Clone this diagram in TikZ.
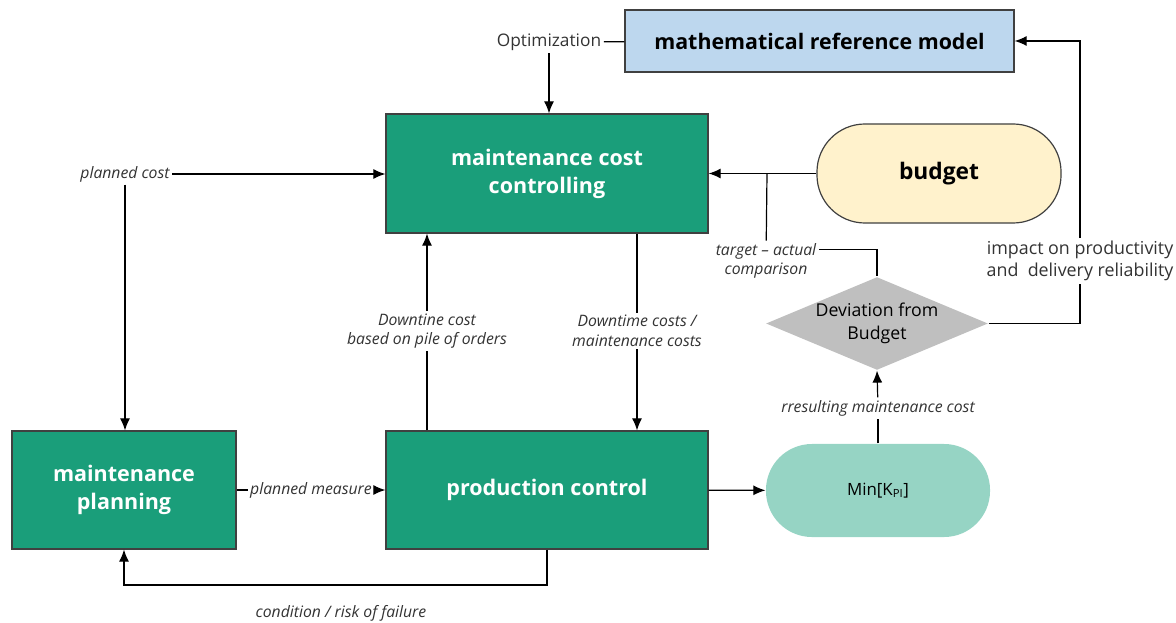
\documentclass[tikz,border=0pt]{standalone}
\usepackage{fontspec}
\setmainfont{Open Sans}
\usetikzlibrary{arrows.meta,shapes.geometric}
\definecolor{boxgreen}{RGB}{26,158,122}
\definecolor{modelblue}{RGB}{189,215,238}
\definecolor{budgetyellow}{RGB}{255,242,204}
\definecolor{devgray}{RGB}{191,191,191}
\definecolor{kpimint}{RGB}{150,212,196}
\begin{document}
\begin{tikzpicture}[x=0.025cm,y=-0.025cm,>={Latex[length=3mm,width=2.5mm]},line width=0.85pt,
    box/.style={draw=black!75,fill=boxgreen,text=white,align=center,inner sep=0pt,
      font=\bfseries\fontsize{15.3}{20}\selectfont},
    lbl/.style={fill=white,text=black!80,align=center,inner sep=1.5pt,
      font=\itshape\fontsize{11.2}{14}\selectfont}]
  \useasboundingbox (0,0) rectangle (1176,623);
  % main blocks
  \node[box,minimum width=8.05cm,minimum height=2.975cm](ctrl) at (547,173.5){maintenance cost\\controlling};
  \node[box,minimum width=8.05cm,minimum height=2.95cm](prod) at (547,490){production control};
  \node[box,minimum width=5.6cm,minimum height=2.95cm](plan) at (124,490){maintenance\\planning};
  \node[draw=black!75,fill=modelblue,minimum width=9.725cm,minimum height=1.55cm,
    font=\bfseries\fontsize{15.2}{18}\selectfont](model) at (819.5,41){mathematical reference model};
  \node[draw=black!75,fill=budgetyellow,rounded corners=1.2cm,minimum width=6.1cm,minimum height=2.475cm,
    font=\bfseries\fontsize{16.2}{19}\selectfont](budget) at (939,173.5){budget};
  \node[diamond,fill=devgray,minimum width=5.55cm,minimum height=2.325cm,inner sep=0pt](dev) at (877,323.5){};
  \node[align=center,font=\fontsize{12.6}{16}\selectfont](devtext) at (dev){Deviation from\\Budget};
  \node[fill=kpimint,rounded corners=1.15cm,minimum width=5.6cm,minimum height=2.325cm,
    font=\fontsize{12}{14}\selectfont](kmin) at (878,490.5){Min[K\textsubscript{PI}]};
  % labels
  \node[lbl,font=\fontsize{12.3}{14}\selectfont](optim) at (549,42){Optimization};
  \node[lbl](pcost) at (125,174){planned cost};
  \node[lbl](pmeas) at (311,490){planned measure};
  \node[lbl](dcost) at (427,331){Downtine cost\\based on pile of orders};
  \node[lbl](dtime) at (637,331){Downtime costs /\\maintenance costs};
  \node[lbl](cond) at (341,613){condition / risk of failure};
  \node[lbl](tgt) at (766,261){target -- actual\\comparison};
  \node[lbl](res) at (878,408){rresulting maintenance cost};
  \node[lbl,font=\fontsize{12.7}{16}\selectfont](impact) at (1080,261){impact on productivity\\and\ \ delivery reliability};
  \coordinate(tj) at (767,173.5);
  \coordinate(c1) at (547,585);
  % connectors
  \draw(optim)--(model);
  \draw[->](optim)--(optim |- ctrl.north);
  \draw[->](pcost)--(pcost -| ctrl.west);
  \draw[->](pcost)--(pcost |- plan.north);
  \draw(plan)--(pmeas);
  \draw[->](pmeas)--(prod);
  \draw(prod.north -| dcost)--(dcost);
  \draw[->](dcost)--(dcost |- ctrl.south);
  \draw(ctrl.south -| dtime)--(dtime);
  \draw[->](dtime)--(dtime |- prod.north);
  \draw[->](prod.south)--(c1)-|(plan.south);
  \draw[->](budget)--(budget -| ctrl.east);
  \draw(tj)--(tgt);
  \draw([yshift=8pt]tgt.east)-|(dev.north);
  \draw(dev.east)-|(impact);
  \draw[->](impact)|-(model.east);
  \draw[->](prod)--(kmin);
  \draw(kmin)--(res);
  \draw[->](res)--(dev.south);
\end{tikzpicture}
\end{document}
